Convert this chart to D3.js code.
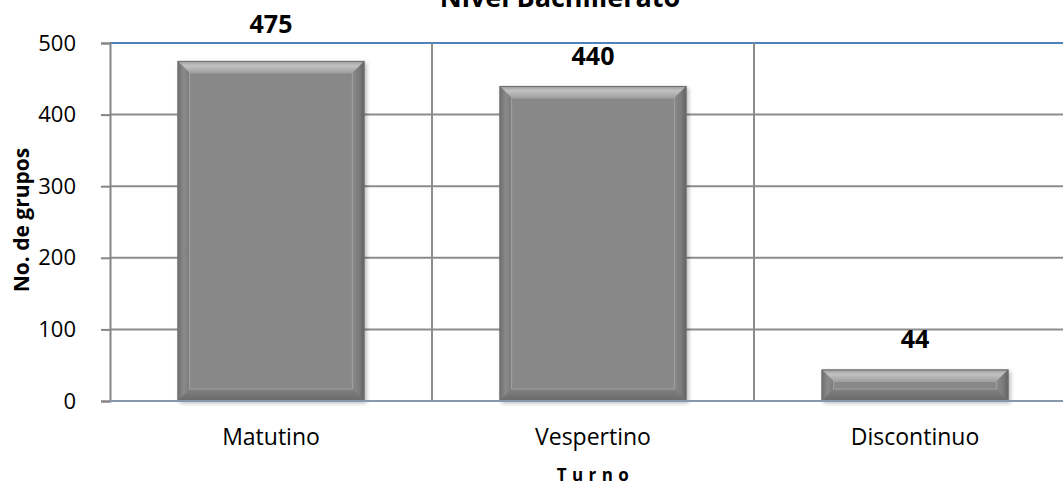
<!DOCTYPE html>
<html>
<head>
<meta charset="utf-8">
<script src="https://cdn.jsdelivr.net/npm/d3@7"></script>
<style>
  html, body { margin: 0; padding: 0; background: #fff; }
  svg { display: block; }
  text { font-family: "Open Sans", sans-serif; }
</style>
</head>
<body>
<script>
const categories = ["Matutino", "Vespertino", "Discontinuo"];
const values = [475, 440, 44];
const yTicks = [0, 100, 200, 300, 400, 500];
const chartTitle = "Nivel Bachillerato";
const xTitle = "T u r n o";
const yTitle = "No. de grupos";

const W = 1063, H = 487;
const plot = { left: 110, right: 1076, top: 43, bottom: 401 };

const svg = d3.select("body").append("svg").attr("width", W).attr("height", H);
const defs = svg.append("defs");
const f = defs.append("filter").attr("id", "shadow").attr("x", "-10%").attr("y", "-10%").attr("width", "130%").attr("height", "130%");
f.append("feDropShadow").attr("dx", 2).attr("dy", 2).attr("stdDeviation", 2).attr("flood-color", "#000").attr("flood-opacity", 0.3);

const gTop = defs.append("linearGradient").attr("id", "gTop").attr("x1", 0).attr("y1", 0).attr("x2", 0).attr("y2", 1);
gTop.append("stop").attr("offset", "0%").attr("stop-color", "#9a9a9a");
gTop.append("stop").attr("offset", "40%").attr("stop-color", "#c2c2c2");
gTop.append("stop").attr("offset", "100%").attr("stop-color", "#a0a0a0");
const gLeft = defs.append("linearGradient").attr("id", "gLeft").attr("x1", 0).attr("y1", 0).attr("x2", 1).attr("y2", 0);
gLeft.append("stop").attr("offset", "0%").attr("stop-color", "#6e6e6e");
gLeft.append("stop").attr("offset", "50%").attr("stop-color", "#8a8a8a");
gLeft.append("stop").attr("offset", "100%").attr("stop-color", "#7c7c7c");
const gRight = defs.append("linearGradient").attr("id", "gRight").attr("x1", 0).attr("y1", 0).attr("x2", 1).attr("y2", 0);
gRight.append("stop").attr("offset", "0%").attr("stop-color", "#8a8a8a");
gRight.append("stop").attr("offset", "60%").attr("stop-color", "#7a7a7a");
gRight.append("stop").attr("offset", "100%").attr("stop-color", "#5e5e5e");
const gBot = defs.append("linearGradient").attr("id", "gBot").attr("x1", 0).attr("y1", 0).attr("x2", 0).attr("y2", 1);
gBot.append("stop").attr("offset", "0%").attr("stop-color", "#808080");
gBot.append("stop").attr("offset", "100%").attr("stop-color", "#6a6a6a");

const x = d3.scaleBand().domain(categories).range([plot.left, plot.right]).padding(0);
const y = d3.scaleLinear().domain([0, 500]).range([plot.bottom, plot.top]);

// horizontal gridlines
svg.append("g").selectAll("line").data(yTicks.filter(t => t > 0)).join("line")
  .attr("x1", plot.left).attr("x2", plot.right)
  .attr("y1", d => y(d)).attr("y2", d => y(d))
  .attr("stroke", d => d === 500 ? "#4f81bd" : "#8c8c8c")
  .attr("stroke-width", 2);

// vertical category separators
svg.append("g").selectAll("line").data(categories.slice(1)).join("line")
  .attr("x1", d => x(d)).attr("x2", d => x(d))
  .attr("y1", plot.top).attr("y2", plot.bottom)
  .attr("stroke", "#8c8c8c").attr("stroke-width", 2);

// y axis
const yAxis = d3.axisLeft(y).tickValues(yTicks).tickSize(9).tickPadding(25);
const ya = svg.append("g").attr("transform", `translate(${plot.left},0)`).call(yAxis);
ya.select(".domain").attr("stroke", "#868686").attr("stroke-width", 2);
ya.selectAll(".tick line").attr("stroke", "#868686").attr("stroke-width", 2);
ya.selectAll(".tick text").attr("font-size", 22).attr("fill", "#000")
  .attr("font-family", "'Open Sans', sans-serif");

// bars
const bw = x.bandwidth() * 0.58;
const bev = 12;
const bars = svg.append("g").selectAll("g").data(categories.map((c, i) => ({ c, v: values[i] }))).join("g");
bars.each(function(d) {
  const g = d3.select(this);
  const x0 = x(d.c) + (x.bandwidth() - bw) / 2, x1 = x0 + bw;
  const y0 = y(d.v), y1 = y(0);
  const b = Math.min(bev, (y1 - y0) / 2 - 2);
  g.append("rect").attr("x", x0).attr("y", y0).attr("width", bw).attr("height", y1 - y0)
    .attr("fill", "#878787").attr("filter", "url(#shadow)");
  g.append("polygon").attr("points", [[x0, y0], [x1, y0], [x1 - bev, y0 + b], [x0 + bev, y0 + b]].join(" ")).attr("fill", "url(#gTop)");
  g.append("polygon").attr("points", [[x0, y0], [x0 + bev, y0 + b], [x0 + bev, y1 - b], [x0, y1]].join(" ")).attr("fill", "url(#gLeft)");
  g.append("polygon").attr("points", [[x1, y0], [x1 - bev, y0 + b], [x1 - bev, y1 - b], [x1, y1]].join(" ")).attr("fill", "url(#gRight)");
  g.append("polygon").attr("points", [[x0, y1], [x0 + bev, y1 - b], [x1 - bev, y1 - b], [x1, y1]].join(" ")).attr("fill", "url(#gBot)");
  g.append("rect").attr("x", x0 + bev).attr("y", y0 + b).attr("width", bw - 2 * bev).attr("height", Math.max(0, y1 - y0 - 2 * b))
    .attr("fill", "#888888").attr("stroke", "#a3a3a3").attr("stroke-width", 1);
  g.append("rect").attr("x", x0 + 0.5).attr("y", y0 + 0.5).attr("width", bw - 1).attr("height", y1 - y0 - 1)
    .attr("fill", "none").attr("stroke", "#707070").attr("stroke-width", 1);
});

// bottom axis line
svg.append("line").attr("x1", plot.left).attr("x2", plot.right).attr("y1", y(0)).attr("y2", y(0))
  .attr("stroke", "#8697ae").attr("stroke-width", 2);

// value labels: 21px above the bar; lifted above the top gridline if they would cross it
function labelY(v) {
  const base = y(v) - 21;
  return (base - 18 < y(500) && base > y(500) - 10) ? y(500) - 10 : base;
}
svg.append("g").selectAll("text").data(values).join("text")
  .attr("x", (d, i) => x(categories[i]) + x.bandwidth() / 2)
  .attr("y", d => labelY(d))
  .attr("text-anchor", "middle").attr("font-size", 25).attr("font-weight", "bold").attr("fill", "#000")
  .text(d => d);

// category labels
svg.append("g").selectAll("text").data(categories).join("text")
  .attr("x", d => x(d) + x.bandwidth() / 2).attr("y", 445)
  .attr("text-anchor", "middle").attr("font-size", 23).attr("fill", "#000")
  .text(d => d);

// axis titles
svg.append("text").attr("x", 593).attr("y", 481).attr("text-anchor", "middle")
  .attr("font-size", 17).attr("font-weight", "bold").attr("fill", "#000")
  .attr("letter-spacing", 0.5).text(xTitle);
svg.append("text").attr("transform", "translate(29,220) rotate(-90)").attr("text-anchor", "middle")
  .attr("font-size", 21).attr("font-weight", "bold").attr("fill", "#000").text(yTitle);

// chart title (clipped at the top as in reference)
svg.append("text").attr("x", 560).attr("y", 7).attr("text-anchor", "middle")
  .attr("font-size", 27).attr("font-weight", "bold").attr("fill", "#000").text(chartTitle);
</script>
</body>
</html>
